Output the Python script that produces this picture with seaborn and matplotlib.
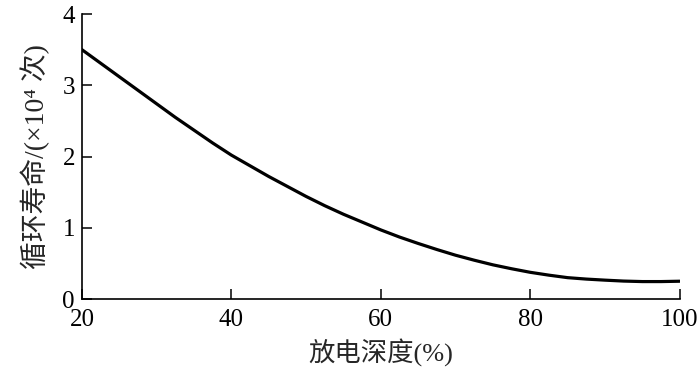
import matplotlib
matplotlib.use("Agg")
import matplotlib.pyplot as plt
import seaborn as sns
import pandas as pd

# data
depth = [20, 22.5, 25, 27.5, 30, 32.5, 35, 37.5, 40, 42.5, 45, 47.5, 50, 52.5,
         55, 57.5, 60, 62.5, 65, 67.5, 70, 72.5, 75, 77.5, 80, 82.5, 85, 87.5,
         90, 92.5, 95, 97.5, 100]
cycles = [3.50, 3.31, 3.12, 2.93, 2.74, 2.55, 2.37, 2.19, 2.02, 1.87, 1.72, 1.58,
          1.44, 1.31, 1.19, 1.08, 0.97, 0.87, 0.78, 0.695, 0.615, 0.545, 0.48, 0.425,
          0.375, 0.335, 0.30, 0.28, 0.265, 0.252, 0.245, 0.245, 0.25]
xticks = [20, 40, 60, 80, 100]
yticks = [0, 1, 2, 3, 4]
xlabel = "放电深度(%)"
ylabel = "循环寿命/(×10⁴ 次)"

sns.set_style("ticks")
plt.rcParams["font.family"] = ["Liberation Serif", "Noto Sans CJK SC", "DejaVu Serif", "DejaVu Sans"]

df = pd.DataFrame({"depth": depth, "cycles": cycles})

fig = plt.figure(figsize=(7.0, 3.79), dpi=100)
ax = fig.add_axes([0.117, 0.211, 0.854, 0.752])
sns.lineplot(data=df, x="depth", y="cycles", ax=ax, color="black", linewidth=2.3)

ax.set_xlim(20, 100)
ax.set_ylim(0, 4)
ax.set_xticks(xticks)
ax.set_yticks(yticks)
ax.tick_params(direction="in", length=7, width=1.1, labelsize=18, colors="black")
ax.tick_params(axis="x", pad=7)
ax.tick_params(axis="y", pad=5)
for s in ["top", "right"]:
    ax.spines[s].set_visible(False)
for s in ["left", "bottom"]:
    ax.spines[s].set_linewidth(1.2)
    ax.spines[s].set_color("black")

ax.set_xlabel(xlabel, fontsize=19, labelpad=6)
ax.set_ylabel(ylabel, fontsize=20, labelpad=9)
ax.set_facecolor("white")
fig.patch.set_facecolor("white")

fig.savefig("out.png", dpi=100, facecolor="white")
